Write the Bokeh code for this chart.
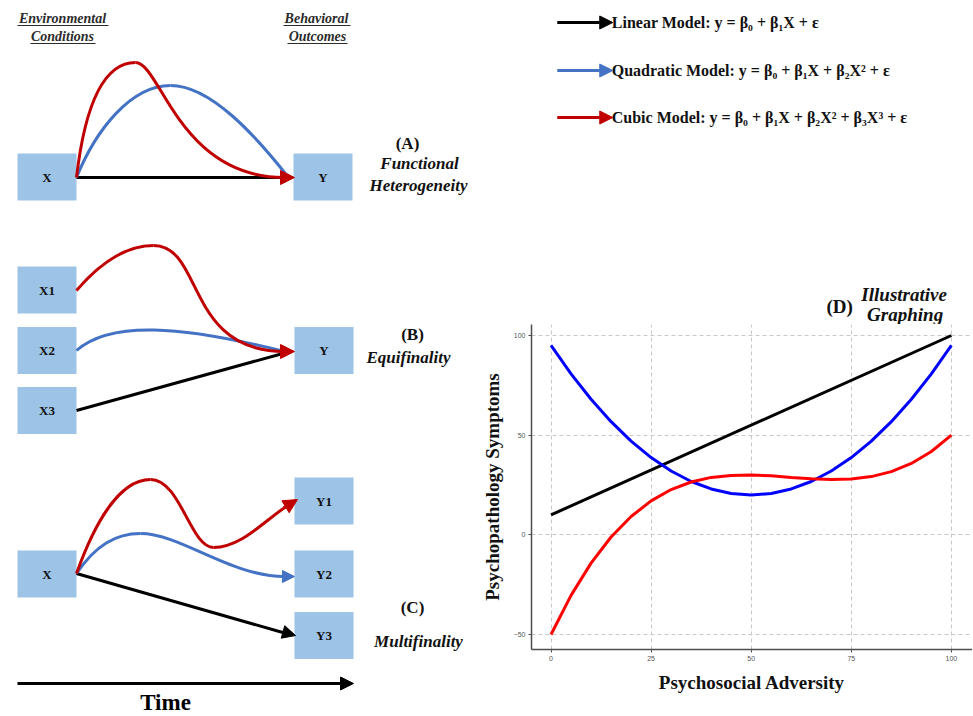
from bokeh.plotting import figure
from bokeh.models import Range1d, Arrow, NormalHead, FixedTicker, ColumnDataSource
from bokeh.layouts import row, column
from bokeh.embed import file_html
from bokeh.resources import INLINE
from bokeh.core.properties import value

# ---------------- chart (D) data ----------------
adversity = [0, 5, 10, 15, 20, 25, 30, 35, 40, 45, 50, 55, 60, 65, 70, 75, 80, 85, 90, 95, 100]
linear_x = [0, 100]
linear_y = [10, 100]
quadratic_y = [95, 80.75, 68, 56.75, 47, 38.75, 32, 26.75, 23, 20.75, 20,
               20.75, 23, 26.75, 32, 38.75, 47, 56.75, 68, 80.75, 95]
cubic_y = [-50, -30.4, -14.2, -1.1, 9.2, 17, 22.7, 26.5, 28.8, 29.8, 30,
           29.6, 28.8, 28.1, 27.7, 28, 29.2, 31.7, 35.8, 41.8, 50]
x_ticks = [0, 25, 50, 75, 100]
y_ticks = [-50, 0, 50, 100]
x_title = "Psychosocial Adversity"
y_title = "Psychopathology Symptoms"

# ---------------- legend texts ----------------
legend_texts = ["Linear Model: y = β₀ + β₁X + ε",
                "Quadratic Model: y = β₀ + β₁X + β₂X² + ε",
                "Cubic Model: y = β₀ + β₁X + β₂X² + β₃X³ + ε"]
model_colors = ["#000000", "#4472C4", "#C00000"]

# ---------------- diagram content ----------------
box_labels = ["X", "Y", "X1", "X2", "X3", "Y", "X", "Y1", "Y2", "Y3"]
header_labels = ["Environmental", "Conditions", "Behavioral", "Outcomes"]
panel_labels = ["(A)", "Functional", "Heterogeneity", "(B)", "Equifinality",
                "(C)", "Multifinality"]
d_labels = ["(D)", "Illustrative", "Graphing"]

# ---------------- diagram layout (page pixel coordinates) ----------------
box_cx = [46.5, 322.5, 46.5, 46.5, 46.5, 323.5, 46.5, 323.5, 323.5, 323.5]
box_cy = [176.5, 176.5, 289.5, 350, 410, 350, 573.5, 500.5, 573.5, 635]

header_x = [62, 62, 316, 317]
header_y = [18, 36, 18, 36]
underline_x0 = [17, 30, 283, 287]
underline_x1 = [108, 95, 350, 347]
underline_y = [25, 43, 25, 43]

panel_x = [407, 419, 418, 412, 408, 412, 418]
panel_y = [143, 163, 185, 334, 357, 607, 641]
panel_style = ["bold", "bold italic", "bold italic", "bold", "bold italic",
               "bold", "bold italic"]

# cubic-bezier path segments (start, control 1, control 2, end)
red_seg = dict(
    x0=[76, 135, 76, 153, 76, 150, 213], y0=[177, 62, 290, 245, 573, 479, 547],
    cx0=[85, 160, 100, 203, 95, 180, 240], cy0=[100, 62, 262, 245, 520, 479, 547],
    cx1=[105, 178, 125, 185, 120, 190, 262], cy1=[62, 177, 245, 351, 479, 547, 522],
    x1=[135, 284, 153, 284, 150, 213, 285], y1=[62, 177, 245, 351, 479, 547, 506.5],
)
blue_seg = dict(
    x0=[76, 170, 76, 76, 140], y0=[177, 85, 350, 573, 533],
    cx0=[95, 210, 110, 95, 180], cy0=[130, 85, 320, 545, 533],
    cx1=[130, 255, 180, 115, 230], cy1=[85, 135, 325, 533, 576],
    x1=[170, 288, 284, 140, 284], y1=[85, 177, 351, 533, 576],
)
black_seg = dict(x0=[76, 76, 76], y0=[177, 410, 573],
                 x1=[284, 286, 284], y1=[177, 352, 632.5])

red_heads = dict(x_start=[279, 279, 283], y_start=[177, 351, 507.5],
                 x_end=[294, 294, 297], y_end=[177, 351, 499])
blue_heads = dict(x_start=[280], y_start=[576], x_end=[294], y_end=[576])
black_heads = dict(x_start=[282, 17], y_start=[631.3, 683], x_end=[295, 353], y_end=[635, 683])

time_x, time_y = 165, 702

legend_arrow_x0, legend_arrow_x1 = 553, 609
legend_y = [22, 70, 117]
legend_text_x = 608
d_x = [838, 903, 904]
d_y = [306, 294, 314]
d_style = ["bold", "bold italic", "bold italic"]

SERIF = value("Liberation Serif")
BOX_FILL = "#9DC3E6"

TOTAL_H = 715
LEFT_W = 478
RIGHT_W = 494
SPLIT_Y = 324
FRAME_L = 527
FRAME_B = 649

# ================= left diagram figure =================
L = figure(width=LEFT_W, height=TOTAL_H, x_range=Range1d(0, LEFT_W), y_range=Range1d(TOTAL_H, 0),
           output_backend="svg", toolbar_location=None, min_border=0,
           x_axis_location=None, y_axis_location=None)
L.grid.visible = False
L.outline_line_color = None

L.rect(x=box_cx, y=box_cy, width=59, height=47, fill_color=BOX_FILL, line_color=None)
L.text(x=box_cx, y=box_cy, text=box_labels, text_font=SERIF, text_font_style="bold",
       text_font_size="13px", text_align="center", text_baseline="middle", text_color="#111111")

L.text(x=header_x, y=header_y, text=header_labels, text_font=SERIF,
       text_font_style="bold italic", text_font_size="14px", text_align="center",
       text_baseline="middle", text_color="#2b2b2b")
L.segment(x0=underline_x0, y0=underline_y, x1=underline_x1, y1=underline_y,
          line_color="#2b2b2b", line_width=1)

L.segment(source=ColumnDataSource(black_seg), x0="x0", y0="y0", x1="x1", y1="y1",
          line_color="#000000", line_width=3)
L.bezier(source=ColumnDataSource(blue_seg), x0="x0", y0="y0", x1="x1", y1="y1",
         cx0="cx0", cy0="cy0", cx1="cx1", cy1="cy1", line_color="#4472C4", line_width=3)
L.bezier(source=ColumnDataSource(red_seg), x0="x0", y0="y0", x1="x1", y1="y1",
         cx0="cx0", cy0="cy0", cx1="cx1", cy1="cy1", line_color="#C00000", line_width=3)

L.add_layout(Arrow(source=ColumnDataSource(black_heads), x_start="x_start", y_start="y_start",
                   x_end="x_end", y_end="y_end", line_color="#000000", line_width=3,
                   end=NormalHead(size=13, fill_color="#000000", line_color="#000000")))
L.add_layout(Arrow(source=ColumnDataSource(blue_heads), x_start="x_start", y_start="y_start",
                   x_end="x_end", y_end="y_end", line_color="#4472C4", line_width=3,
                   end=NormalHead(size=12, fill_color="#4472C4", line_color="#4472C4")))
L.add_layout(Arrow(source=ColumnDataSource(red_heads), x_start="x_start", y_start="y_start",
                   x_end="x_end", y_end="y_end", line_color="#C00000", line_width=3,
                   end=NormalHead(size=14, fill_color="#C00000", line_color="#C00000")))

for lab, x, y, st in zip(panel_labels, panel_x, panel_y, panel_style):
    L.text(x=[x], y=[y], text=[lab], text_font=SERIF, text_font_style=st,
           text_font_size="17px", text_align="center", text_baseline="middle",
           text_color="#111111")

L.text(x=[time_x], y=[time_y], text=["Time"], text_font=SERIF, text_font_style="bold",
       text_font_size="23px", text_align="center", text_baseline="middle", text_color="#000000")

# ================= top-right legend figure =================
R1 = figure(width=RIGHT_W, height=SPLIT_Y,
            x_range=Range1d(FRAME_L, LEFT_W + RIGHT_W), y_range=Range1d(SPLIT_Y, 0),
            output_backend="svg", toolbar_location=None,
            min_border_left=FRAME_L - LEFT_W, min_border_right=0,
            min_border_top=0, min_border_bottom=0,
            x_axis_location=None, y_axis_location=None)
R1.grid.visible = False
R1.outline_line_color = None

for yy, col in zip(legend_y, model_colors):
    R1.add_layout(Arrow(x_start=legend_arrow_x0, y_start=yy, x_end=legend_arrow_x1, y_end=yy,
                        line_color=col, line_width=3,
                        end=NormalHead(size=13, fill_color=col, line_color=col)))
R1.text(x=[legend_text_x] * 3, y=legend_y, text=legend_texts, text_font=SERIF,
        text_font_style="bold", text_font_size="16px", text_align="left",
        text_baseline="middle", text_color="#111111")
for lab, x, y, st in zip(d_labels, d_x, d_y, d_style):
    R1.text(x=[x], y=[y], text=[lab], text_font=SERIF, text_font_style=st,
            text_font_size="19px", text_align="center", text_baseline="middle",
            text_color="#111111")

# ================= chart (D) =================
c_h = TOTAL_H - SPLIT_Y
px_per_x = 4.04
px_per_y = 1.993
x0_page = 546.7
y0_page = 534.3
frame_w = LEFT_W + RIGHT_W - FRAME_L
C = figure(width=RIGHT_W, height=c_h,
           x_range=Range1d((FRAME_L - x0_page) / px_per_x, (FRAME_L + frame_w - x0_page) / px_per_x),
           y_range=Range1d((y0_page - FRAME_B) / px_per_y, (y0_page - SPLIT_Y) / px_per_y),
           output_backend="svg", toolbar_location=None,
           min_border_left=FRAME_L - LEFT_W, min_border_right=0, min_border_top=0,
           min_border_bottom=TOTAL_H - FRAME_B)
C.outline_line_color = None
C.line(linear_x, linear_y, line_color="#000000", line_width=3)
C.line(adversity, quadratic_y, line_color="#0000FF", line_width=3)
C.line(adversity, cubic_y, line_color="#FF0000", line_width=3)

C.xaxis.ticker = FixedTicker(ticks=x_ticks)
C.yaxis.ticker = FixedTicker(ticks=y_ticks)
for ax in (C.xaxis[0], C.yaxis[0]):
    ax.axis_line_color = "#4d4d4d"
    ax.axis_line_width = 1.5
    ax.major_tick_line_color = "#4d4d4d"
    ax.major_tick_out = 3
    ax.major_tick_in = 0
    ax.minor_tick_line_color = None
    ax.major_label_text_font_size = "7px"
    ax.major_label_text_color = "#555555"
    ax.major_label_standoff = 3
    ax.axis_label_text_font = "Liberation Serif"
    ax.axis_label_text_font_style = "bold"
    ax.axis_label_text_font_size = "19px"
    ax.axis_label_text_color = "#111111"
    ax.axis_label_standoff = 8
C.xaxis.axis_label = x_title
C.yaxis.axis_label = y_title
C.grid.grid_line_color = "#c8c8c8"
C.grid.grid_line_dash = "4 3"
C.grid.grid_line_width = 1
C.xgrid.ticker = FixedTicker(ticks=x_ticks)
C.ygrid.ticker = FixedTicker(ticks=y_ticks)

layout = row(L, column(R1, C))
open("out.html", "w").write(file_html(layout, INLINE))
